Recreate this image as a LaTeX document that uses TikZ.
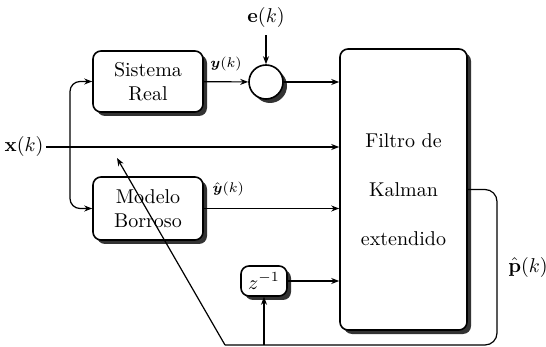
\documentclass[tikz,border=0pt]{standalone}
\usepackage{amsmath}
\usepackage{amssymb}
\usepackage{tikz}
\usetikzlibrary{positioning, shapes.geometric, arrows.meta, calc, shadows}
\tikzset{
  % bloque con sombra
  bloque/.style={draw, thick, rounded corners=4pt, fill=white, align=center,
                 inner sep=2pt,
                 drop shadow={shadow xshift=2pt, shadow yshift=-2pt,
                              fill=black!80, opacity=1}},
  % sumador circular
  sumador/.style={circle, draw, thick, fill=white, minimum size=17pt,
                  inner sep=0pt,
                  drop shadow={shadow xshift=2pt, shadow yshift=-2pt,
                               fill=black!80, opacity=1}},
  % conector con punta
  flecha/.style={-{Stealth[length=4pt, width=3pt]}, semithick},
  etiq/.style={font=\scriptsize, inner sep=1pt},
}
\begin{document}
\begin{tikzpicture}[x=0.5pt, y=-0.5pt]
  \useasboundingbox (0,0) rectangle (546,347);
  % bloques
  \node[bloque, minimum width=55pt, minimum height=30.5pt] (sistema) at (148,81.5)
    {Sistema\\Real};
  \node[bloque, minimum width=55pt, minimum height=31.5pt] (modelo) at (148,208.5)
    {Modelo\\Borroso};
  \node[bloque, minimum width=63.5pt, minimum height=140.5pt] (kalman) at (403.5,189.5)
    {Filtro de\\[12.5pt]Kalman\\[12.5pt]extendido};
  \node[bloque, minimum width=23pt, minimum height=15pt] (retardo) at (264,281)
    {$z^{-1}$};
  \node[sumador] (suma) at (266,82) {};

  % entradas y salidas
  \node (e) at (266,18) {$\mathbf{e}(k)$};
  \node[inner sep=1pt] (x) at (24,147) {$\mathbf{x}(k)$};
  \node[inner sep=1pt] (p) at (528,267) {$\hat{\mathbf{p}}(k)$};
  \coordinate (rama) at (70,147);
  \coordinate (esq) at (497,345);
  \coordinate (base) at (225,345);
  \coordinate (punta) at (117,158);

  % conexiones
  \draw[flecha] (e) -- (suma);
  \draw[flecha] (sistema) -- node[etiq, above=4pt] {$\boldsymbol{y}(k)$} (suma);
  \draw[flecha] (suma) -- (suma -| kalman.west);
  \draw[flecha] (x) -- (x -| kalman.west);
  \draw[flecha, rounded corners=5pt] (rama) |- (sistema.west);
  \draw[flecha, rounded corners=5pt] (rama) |- (modelo.west);
  \draw[flecha] (modelo) -- node[etiq, above=5pt, pos=0.18] {$\hat{\boldsymbol{y}}(k)$}
    (modelo -| kalman.west);
  \draw[flecha] (retardo) -- (retardo -| kalman.west);
  % realimentacion
  \draw[semithick, rounded corners=6pt] (kalman.east) -| (esq) -- (base);
  \draw[flecha] (base) -- (punta);
  \draw[flecha] (retardo.south |- base) -- (retardo);
\end{tikzpicture}
\end{document}
